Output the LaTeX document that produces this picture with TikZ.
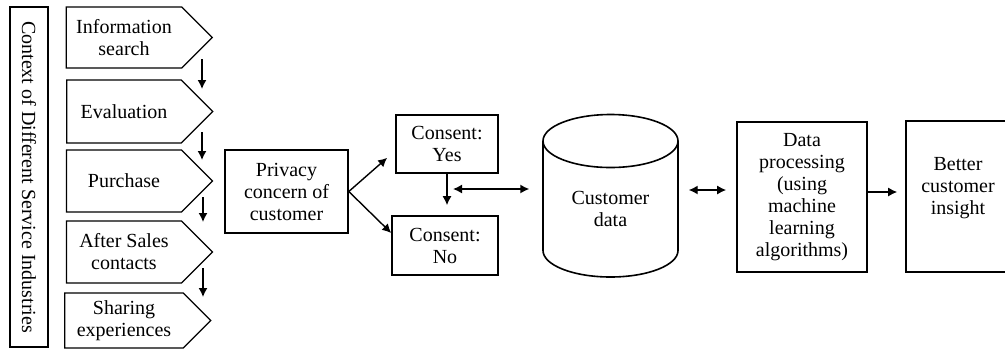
\documentclass[tikz,border=0pt]{standalone}
\usepackage{fontspec}
\setmainfont{Liberation Serif}
\usetikzlibrary{shapes.symbols,arrows.meta}

\tikzset{
  txt/.style={font=\fontsize{10pt}{11pt}\selectfont, align=center},
  box/.style={txt, draw, line width=0.8pt, inner sep=1pt},
  stage/.style={txt, draw, line width=0.6pt, shape=signal, signal to=east,
    signal pointer angle=90, minimum width=73pt, inner sep=1pt},
}

\begin{document}
\begin{tikzpicture}[x=5pt, y=5pt, >={Latex[length=4.5pt,width=4.5pt]}, line width=0.7pt]
        \useasboundingbox (0,0) rectangle (100.5,35.6);
        \node [box, rotate=-90, minimum width=170pt, minimum height=19pt] (context) at (2.9,17.9) {Context of Different Service Industries};
        \node [stage, minimum height=30.5pt] (info) at (12.4,31.85) {Information\\search};
        \node [stage, minimum height=31.5pt] (eval) at (12.4,24.45) {Evaluation};
        \node [stage, minimum height=31pt] (purchase) at (12.4,17.5) {Purchase};
        \node [stage, minimum height=31pt] (after) at (12.4,10.4) {After Sales\\contacts};
        \node [stage, minimum height=27.5pt] (sharing) at (12.4,3.55) {Sharing\\experiences};
        \coordinate (d1) at (20.2,29.7);
        \coordinate (d2) at (20.2,26.7);
        \coordinate (d3) at (20.2,22.4);
        \coordinate (d4) at (20.2,19.6);
        \coordinate (d5) at (20.3,15.9);
        \coordinate (d6) at (20.3,13.4);
        \coordinate (d7) at (20.3,8.8);
        \coordinate (d8) at (20.3,5.9);
        \draw [->] (d1) -- (d2);
        \draw [->] (d3) -- (d4);
        \draw [->] (d5) -- (d6);
        \draw [->] (d7) -- (d8);
        \node [box, minimum width=61.5pt, minimum height=41.5pt] (privacy) at (28.65,16.45) {Privacy\\concern of\\customer};
        \node [box, minimum width=51pt, minimum height=29pt] (yes) at (44.7,21.2) {Consent:\\Yes};
        \node [box, minimum width=53pt, minimum height=29.5pt] (no) at (44.5,11.05) {Consent:\\No};
        \draw [->] (privacy.east) -- ([shift={(-0.8,1.6)}]yes.south west);
        \draw [->] (privacy.east) -- ([shift={(0,1.25)}]no.west);
        \draw [->, shorten >=5pt] (yes.south) -- (yes.south |- no.north);
        % data store
        \draw [line width=0.8pt] (54.3,21.5) -- (54.3,10.55) arc [start angle=180, end angle=360, x radius=6.75, y radius=2.65] -- (67.8,21.5);
        \draw [line width=0.8pt] (61.05,21.5) ellipse [x radius=6.75, y radius=2.65];
        \node [txt, minimum width=67.5pt, inner sep=0pt] (cust) at (61.05,14.7) {Customer\\data};
        \coordinate (hub) at (45.3,16.7);
        \draw [<->, shorten >=6.5pt] (hub) -- (hub -| cust.west);
        \node [box, minimum width=65pt, minimum height=75pt] (dp) at (80.2,15.9) {Data\\processing\\(using\\machine\\learning\\algorithms)};
        \node [box, minimum width=52pt, minimum height=75.5pt] (better) at (95.8,15.95) {Better\\customer\\insight\\\mbox{}};
        \draw [<->, shorten <=5pt, shorten >=5pt] ([yshift=9.5pt]cust.east) -- ([yshift=9.5pt]cust.east -| dp.west);
        \draw [->, shorten >=4pt] ([yshift=2.5pt]dp.east) -- ([yshift=2.5pt]dp.east -| better.west);
      \end{tikzpicture}
\end{document}
